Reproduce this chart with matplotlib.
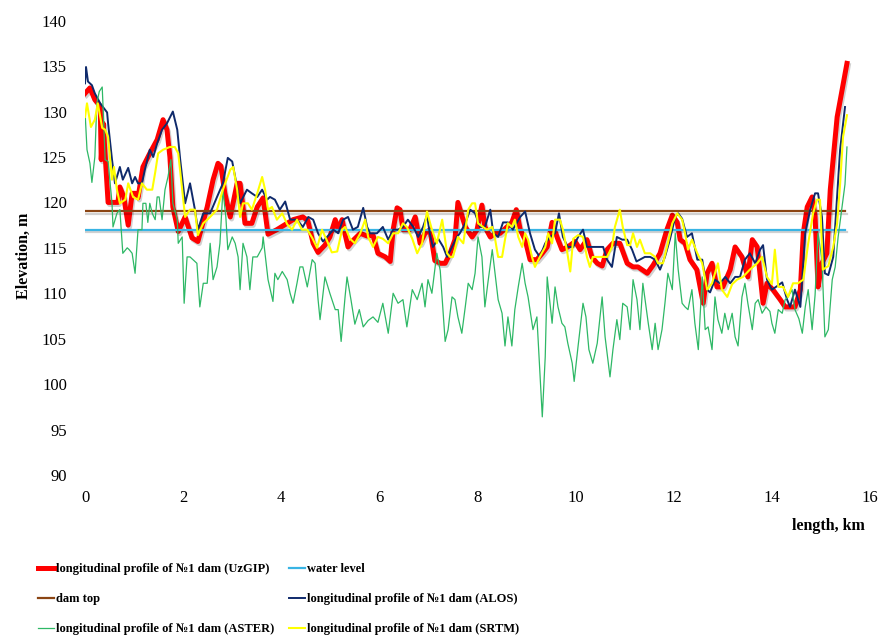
import matplotlib
matplotlib.use("Agg")
import matplotlib.pyplot as plt
import matplotlib.patheffects as pe

plt.rcParams['font.family'] = ['Liberation Serif', 'DejaVu Serif']

# UzGIP survey profile
uz_x = [0.00, 0.10, 0.20, 0.31, 0.33, 0.37, 0.47, 0.67, 0.71, 0.79, 0.88, 0.96, 1.04, 1.08,
        1.18, 1.32, 1.47, 1.59, 1.67, 1.73, 1.79, 1.90, 2.04, 2.18, 2.30, 2.49, 2.61, 2.71,
        2.77, 2.85, 2.96, 3.10, 3.16, 3.26, 3.40, 3.51, 3.63, 3.73, 3.91, 4.24, 4.44, 4.54,
        4.65, 4.75, 4.89, 4.99, 5.10, 5.16, 5.24, 5.30, 5.36, 5.46, 5.61, 5.75, 5.87, 5.97,
        6.12, 6.22, 6.28, 6.36, 6.42, 6.48, 6.62, 6.73, 6.83, 6.93, 7.03, 7.13, 7.24, 7.34,
        7.44, 7.54, 7.60, 7.75, 7.89, 7.99, 8.09, 8.15, 8.26, 8.36, 8.46, 8.60, 8.70, 8.79,
        8.87, 8.97, 9.07, 9.21, 9.32, 9.42, 9.52, 9.62, 9.72, 9.84, 9.99, 10.09, 10.23, 10.33,
        10.44, 10.54, 10.64, 10.76, 10.90, 11.05, 11.17, 11.27, 11.46, 11.58, 11.72, 11.86,
        11.97, 12.07, 12.13, 12.23, 12.33, 12.47, 12.60, 12.68, 12.78, 12.88, 13.00, 13.15,
        13.25, 13.39, 13.51, 13.60, 13.70, 13.82, 13.90, 14.02, 14.17, 14.27, 14.47, 14.58,
        14.64, 14.72, 14.82, 14.88, 14.94, 15.02, 15.12, 15.19, 15.33, 15.53]
uz_y = [132.0, 132.6, 131.3, 130.6, 124.7, 128.7, 120.0, 120.0, 121.7, 120.6, 117.5, 121.0, 121.0, 120.5,
        123.9, 125.4, 126.9, 129.1, 128.0, 125.0, 119.5, 116.8, 118.4, 116.1, 115.7, 119.5, 122.5, 124.3,
        124.0, 121.0, 118.4, 122.1, 122.1, 117.7, 117.7, 119.5, 120.5, 116.5, 117.0, 118.1, 118.4, 118.0,
        115.5, 114.5, 115.3, 116.2, 118.1, 117.0, 118.1, 116.5, 115.1, 115.8, 116.6, 116.3, 116.4, 114.4,
        114.0, 113.5, 117.0, 119.4, 119.2, 117.0, 117.0, 118.4, 115.5, 116.6, 117.0, 113.6, 113.3, 113.3,
        114.4, 115.9, 120.0, 117.3, 116.2, 117.0, 119.7, 117.3, 116.2, 116.6, 116.6, 117.3, 117.8, 119.2,
        117.0, 115.9, 113.7, 113.7, 114.4, 115.1, 117.8, 116.2, 114.8, 115.1, 115.7, 114.8, 115.9, 114.0,
        113.3, 113.0, 114.8, 115.5, 115.5, 113.3, 112.9, 112.9, 112.2, 113.1, 114.4, 117.0,
        118.6, 117.8, 115.9, 115.5, 113.7, 112.6, 108.9, 112.2, 113.3, 110.7, 110.7, 112.6,
        115.1, 114.0, 111.8, 115.9, 115.1, 108.9, 111.1, 110.4, 109.3, 108.5, 108.5, 110.4,
        116.6, 119.5, 120.6, 118.5, 110.7, 113.3, 114.4, 121.4, 129.4, 135.3]

# ALOS DEM profile
alos_x = [0.00, 0.02, 0.06, 0.14, 0.20, 0.31, 0.45, 0.47, 0.55, 0.61, 0.71, 0.77, 0.88, 0.96,
          1.02, 1.08, 1.16, 1.22, 1.32, 1.39, 1.47, 1.57, 1.67, 1.79, 1.88, 1.94, 2.04, 2.14,
          2.24, 2.30, 2.41, 2.55, 2.69, 2.81, 2.91, 3.00, 3.06, 3.16, 3.30, 3.40, 3.51, 3.61,
          3.71, 3.77, 3.87, 3.97, 4.08, 4.18, 4.32, 4.44, 4.55, 4.65, 4.75, 4.85, 4.95, 5.06,
          5.16, 5.26, 5.36, 5.46, 5.56, 5.67, 5.75, 5.81, 5.95, 6.07, 6.18, 6.28, 6.38, 6.48,
          6.58, 6.69, 6.79, 6.89, 6.97, 7.03, 7.09, 7.20, 7.30, 7.38, 7.48, 7.58, 7.64, 7.75,
          7.85, 7.95, 8.05, 8.15, 8.26, 8.32, 8.42, 8.52, 8.62, 8.72, 8.87, 8.97, 9.07, 9.17,
          9.27, 9.38, 9.48, 9.58, 9.66, 9.74, 9.84, 9.95, 10.05, 10.15, 10.23, 10.35, 10.56,
          10.64, 10.74, 10.84, 10.95, 11.05, 11.15, 11.24, 11.41, 11.52, 11.62, 11.72, 11.82,
          11.92, 12.03, 12.09, 12.17, 12.27, 12.37, 12.48, 12.58, 12.68, 12.74, 12.84, 12.94,
          13.05, 13.15, 13.25, 13.35, 13.45, 13.55, 13.66, 13.76, 13.82, 13.90, 14.00, 14.11,
          14.21, 14.31, 14.37, 14.47, 14.58, 14.68, 14.78, 14.88, 14.94, 15.02, 15.08, 15.15,
          15.25, 15.39, 15.49]
alos_y = [133.1, 134.9, 133.3, 132.9, 132.0, 130.9, 129.9, 128.7, 124.7, 122.1, 123.9, 122.5, 123.8, 122.1,
          122.8, 122.1, 122.1, 123.6, 125.8, 125.0, 126.5, 128.0, 128.7, 130.0, 128.0, 124.7, 119.9, 122.1,
          119.2, 117.0, 118.8, 118.8, 120.6, 122.1, 124.9, 124.5, 122.8, 119.9, 121.4, 121.0, 120.6, 121.4,
          120.3, 120.6, 120.3, 119.2, 120.1, 118.1, 118.1, 117.3, 118.4, 118.1, 116.6, 115.7, 116.3, 117.0,
          116.6, 118.1, 118.4, 117.0, 117.3, 119.4, 117.3, 116.6, 116.6, 117.3, 115.9, 117.0, 117.0, 117.3,
          118.1, 117.3, 116.2, 117.3, 118.6, 116.5, 115.1, 116.0, 115.1, 114.0, 115.1, 116.2, 116.6, 117.7,
          119.2, 118.8, 117.3, 117.3, 119.2, 116.6, 116.2, 117.8, 117.8, 117.0, 118.4, 119.0, 116.6, 114.8,
          114.0, 115.5, 116.2, 116.6, 118.8, 116.2, 115.1, 115.1, 116.2, 117.0, 115.1, 115.1, 115.1,
          113.7, 112.9, 116.2, 115.9, 115.9, 114.8, 113.5, 114.0, 114.0, 113.7, 112.6, 114.0,
          115.9, 118.4, 118.8, 118.2, 116.2, 116.6, 113.7, 113.7, 110.4, 110.1, 111.5, 111.1,
          111.8, 111.1, 111.8, 111.8, 113.7, 114.4, 113.3, 114.8, 115.3, 111.5, 110.4, 110.8,
          111.2, 109.3, 108.5, 110.4, 108.5, 116.6, 119.2, 121.0, 121.0, 118.4, 112.2, 112.0,
          114.0, 125.8, 130.5]

# ASTER DEM profile
aster_x = [0.00, 0.04, 0.10, 0.14, 0.20, 0.24, 0.29, 0.35, 0.37, 0.41, 0.47, 0.55, 0.57, 0.65,
           0.71, 0.77, 0.86, 0.90, 0.96, 1.02, 1.08, 1.16, 1.18, 1.24, 1.28, 1.32, 1.37, 1.43,
           1.47, 1.51, 1.57, 1.63, 1.69, 1.75, 1.79, 1.88, 1.90, 1.98, 2.02, 2.08, 2.14, 2.20,
           2.28, 2.34, 2.41, 2.49, 2.55, 2.61, 2.69, 2.75, 2.81, 2.87, 2.91, 3.00, 3.06, 3.12,
           3.16, 3.22, 3.30, 3.36, 3.42, 3.51, 3.61, 3.63, 3.73, 3.83, 3.87, 3.93, 4.02, 4.12,
           4.18, 4.24, 4.32, 4.38, 4.44, 4.53, 4.63, 4.69, 4.75, 4.79, 4.89, 4.99, 5.10, 5.16,
           5.22, 5.30, 5.34, 5.42, 5.50, 5.59, 5.67, 5.77, 5.87, 5.97, 6.07, 6.18, 6.28, 6.38,
           6.48, 6.56, 6.67, 6.77, 6.87, 6.93, 6.99, 7.07, 7.17, 7.24, 7.34, 7.40, 7.48, 7.54,
           7.60, 7.68, 7.75, 7.81, 7.89, 7.95, 8.01, 8.09, 8.15, 8.21, 8.30, 8.36, 8.42, 8.50,
           8.56, 8.62, 8.70, 8.76, 8.83, 8.91, 8.97, 9.03, 9.13, 9.21, 9.32, 9.38, 9.42, 9.52,
           9.58, 9.64, 9.72, 9.78, 9.84, 9.93, 9.97, 10.05, 10.15, 10.21, 10.27, 10.35, 10.44,
           10.54, 10.60, 10.70, 10.76, 10.84, 10.90, 10.96, 11.05, 11.11, 11.17, 11.25, 11.31,
           11.37, 11.48, 11.56, 11.62, 11.68, 11.76, 11.82, 11.88, 11.97, 12.03, 12.09, 12.17,
           12.23, 12.29, 12.37, 12.43, 12.50, 12.58, 12.64, 12.70, 12.78, 12.84, 12.90, 12.98,
           13.04, 13.11, 13.19, 13.25, 13.31, 13.39, 13.45, 13.51, 13.60, 13.66, 13.72, 13.80,
           13.88, 13.96, 14.00, 14.06, 14.13, 14.21, 14.27, 14.33, 14.41, 14.47, 14.55, 14.62,
           14.68, 14.74, 14.82, 14.88, 14.94, 15.02, 15.08, 15.15, 15.23, 15.29, 15.35, 15.43,
           15.49, 15.53]
aster_y = [130.0, 125.8, 124.3, 122.2, 125.0, 130.9, 132.2, 132.7, 130.2, 124.7, 124.5, 119.9, 117.3, 118.8,
           119.2, 114.4, 115.0, 114.8, 114.4, 112.2, 117.0, 117.0, 119.9, 119.9, 117.8, 119.9, 118.8, 118.1,
           120.6, 120.6, 118.1, 121.4, 122.8, 124.7, 119.9, 118.1, 115.5, 116.2, 108.9, 114.0, 114.0, 113.7,
           113.3, 108.5, 111.1, 111.1, 115.5, 111.5, 112.9, 115.5, 121.4, 118.4, 114.8, 116.2, 115.5, 114.0,
           110.4, 115.5, 114.0, 110.4, 114.0, 114.0, 115.0, 116.2, 111.5, 109.1, 112.2, 111.5, 112.4, 111.5,
           110.0, 108.9, 111.1, 112.9, 112.9, 110.7, 113.7, 113.3, 109.3, 107.1, 111.8, 110.0, 108.2, 108.2,
           104.7, 109.6, 111.8, 109.3, 106.6, 108.2, 106.3, 107.0, 107.4, 106.8, 108.9, 105.6, 110.0, 108.9,
           109.3, 106.3, 110.4, 109.3, 111.1, 108.5, 111.5, 110.0, 114.4, 112.5, 104.7, 106.0, 109.6, 109.3,
           107.4, 105.6, 108.5, 111.1, 110.4, 112.2, 116.2, 114.0, 108.5, 111.1, 114.8, 112.0, 109.3, 107.8,
           104.2, 107.4, 104.2, 108.2, 110.7, 113.3, 111.1, 109.6, 106.0, 107.4, 96.4, 103.0, 111.8, 106.7,
           110.7, 108.5, 106.7, 106.3, 104.5, 102.3, 100.3, 104.2, 108.9, 107.4, 103.8, 102.3, 104.5,
           109.6, 105.2, 100.8, 103.8, 107.1, 104.9, 108.9, 108.5, 106.0, 111.5, 109.3, 106.0,
           111.1, 106.7, 103.8, 106.7, 103.8, 106.0, 108.9, 112.2, 110.4, 116.6, 112.6, 108.9,
           108.5, 108.2, 110.4, 106.7, 103.8, 111.8, 106.0, 106.3, 103.8, 109.6, 107.1, 105.6,
           107.8, 106.0, 107.8, 105.2, 104.2, 109.6, 111.1, 108.9, 106.0, 108.9, 109.3, 107.8,
           108.5, 108.0, 106.7, 105.6, 108.2, 107.8, 109.3, 109.6, 110.4, 108.2, 107.2, 105.6,
           108.5, 110.4, 106.0, 109.8, 116.6, 113.7, 105.2, 106.0, 111.5, 112.9, 116.2, 119.5,
           122.0, 126.1]

# SRTM DEM profile
srtm_x = [0.00, 0.04, 0.12, 0.20, 0.26, 0.35, 0.41, 0.47, 0.55, 0.59, 0.65, 0.71, 0.82, 0.88,
          0.98, 1.08, 1.16, 1.26, 1.37, 1.43, 1.49, 1.59, 1.73, 1.83, 1.90, 1.98, 2.04, 2.14,
          2.24, 2.30, 2.41, 2.55, 2.69, 2.81, 2.96, 3.02, 3.10, 3.16, 3.22, 3.32, 3.40, 3.51,
          3.61, 3.67, 3.73, 3.81, 3.91, 4.02, 4.12, 4.22, 4.32, 4.42, 4.53, 4.63, 4.73, 4.83,
          4.93, 5.03, 5.14, 5.24, 5.30, 5.40, 5.50, 5.61, 5.71, 5.77, 5.87, 5.97, 6.07, 6.18,
          6.28, 6.38, 6.48, 6.56, 6.67, 6.77, 6.87, 6.97, 7.07, 7.17, 7.28, 7.38, 7.44, 7.50,
          7.60, 7.71, 7.81, 7.89, 7.95, 8.01, 8.11, 8.19, 8.30, 8.36, 8.42, 8.50, 8.56, 8.62,
          8.70, 8.76, 8.83, 8.91, 8.97, 9.03, 9.11, 9.17, 9.27, 9.38, 9.44, 9.52, 9.58, 9.68,
          9.74, 9.82, 9.89, 9.95, 10.05, 10.15, 10.23, 10.29, 10.35, 10.50, 10.64, 10.74, 10.80,
          10.90, 10.96, 11.05, 11.11, 11.17, 11.25, 11.31, 11.41, 11.52, 11.62, 11.68, 11.78,
          11.88, 11.97, 12.07, 12.17, 12.23, 12.29, 12.37, 12.48, 12.58, 12.68, 12.78, 12.90,
          12.98, 13.09, 13.19, 13.29, 13.41, 13.55, 13.70, 13.80, 13.90, 14.00, 14.06, 14.13,
          14.23, 14.33, 14.43, 14.53, 14.64, 14.74, 14.84, 14.92, 14.98, 15.04, 15.15, 15.25,
          15.33, 15.39, 15.45, 15.53]
srtm_y = [129.4, 130.9, 128.3, 129.1, 130.9, 128.2, 128.0, 127.2, 122.5, 123.9, 121.4, 119.9, 120.3, 122.1,
          120.6, 120.3, 122.1, 121.4, 121.4, 123.3, 125.4, 125.8, 126.1, 126.1, 125.4, 121.4, 118.4, 119.2,
          119.2, 116.4, 117.7, 118.4, 119.2, 121.4, 123.6, 123.9, 121.4, 118.4, 119.9, 119.9, 119.2, 121.0,
          122.8, 121.4, 119.2, 119.5, 118.1, 118.8, 117.6, 117.0, 118.1, 117.0, 117.0, 116.1, 115.0, 117.0,
          115.8, 114.5, 114.6, 117.0, 117.3, 116.0, 115.5, 116.6, 118.1, 116.2, 115.1, 116.2, 116.0, 115.5,
          116.6, 116.6, 117.7, 117.3, 116.0, 114.4, 115.5, 119.0, 117.0, 115.5, 118.1, 114.4, 114.0, 114.0,
          116.2, 115.5, 119.2, 119.9, 119.9, 117.7, 117.3, 117.0, 117.3, 115.9, 114.0, 114.0, 115.9, 117.7,
          117.3, 118.1, 116.2, 115.1, 116.6, 115.9, 114.0, 112.9, 114.0, 115.1, 116.6, 115.5, 118.1, 118.1,
          117.0, 114.8, 112.4, 116.0, 116.4, 116.2, 114.0, 112.9, 114.0, 114.0, 114.0, 115.1, 117.3,
          119.2, 117.3, 115.3, 115.3, 116.6, 115.1, 115.9, 114.4, 114.4, 114.0, 113.3, 113.3,
          115.5, 117.7, 118.8, 118.1, 116.6, 114.8, 115.9, 114.4, 113.3, 110.4, 111.1, 113.3,
          110.4, 109.6, 111.0, 111.5, 111.8, 112.6, 113.3, 114.0, 111.8, 111.0, 114.8, 110.7,
          110.7, 109.6, 111.1, 111.1, 111.5, 115.5, 118.8, 120.3, 120.3, 112.6, 113.0, 115.1,
          117.7, 122.0, 127.2, 129.6]

# design levels along the dam
level_x = [0.0, 15.5]
water_level = [117.0, 117.0]
dam_top = [119.0, 119.0]

fig = plt.figure(figsize=(8.83, 6.4), dpi=100)
ax = fig.add_axes([0.0963, 0.2578, 0.8890, 0.7099])

shadow = [pe.SimpleLineShadow(offset=(1, -1.5), alpha=0.18), pe.Normal()]

l_uz, = ax.plot(uz_x, uz_y, color='#FF0000', lw=3.6, solid_joinstyle='round',
                path_effects=shadow, label='longitudinal profile of №1 dam (UzGIP)')
l_wl, = ax.plot(level_x, water_level, color='#38B4E4', lw=1.6,
                path_effects=shadow, label='water level')
l_dt, = ax.plot(level_x, dam_top, color='#8B4513', lw=1.6,
                path_effects=shadow, label='dam top')
l_al, = ax.plot(alos_x, alos_y, color='#0F2A6B', lw=1.4,
                label='longitudinal profile of №1 dam (ALOS)')
l_as, = ax.plot(aster_x, aster_y, color='#2EB866', lw=0.9,
                label='longitudinal profile of №1 dam (ASTER)')
l_sr, = ax.plot(srtm_x, srtm_y, color='#FFFF00', lw=1.5,
                label='longitudinal profile of №1 dam (SRTM)')

ax.set_xlim(0, 16)
ax.set_ylim(90, 140)
ax.set_xticks(range(0, 17, 2))
ax.set_yticks(range(90, 141, 5))
for s in ax.spines.values():
    s.set_visible(False)
ax.tick_params(axis='both', length=0, labelsize=12)
ax.tick_params(axis='x', pad=11)
ax.tick_params(axis='y', pad=13)

fig.text(0.027, 0.60, 'Elevation, m', rotation=90, ha='center', va='center',
         fontsize=11.5, fontweight='bold')
fig.text(0.980, 0.178, 'length, km', ha='right', va='center',
         fontsize=11.5, fontweight='bold')

handles = [l_uz, l_dt, l_as, l_wl, l_al, l_sr]
leg = fig.legend(handles=handles, labels=[h.get_label() for h in handles],
                 ncol=2, loc='upper left', bbox_to_anchor=(0.03, 0.138),
                 frameon=False, handlelength=1.3, handletextpad=0.15,
                 columnspacing=1.2, labelspacing=1.45,
                 prop={'weight': 'bold', 'size': 9})
for h in leg.legend_handles:
    h.set_path_effects([])

fig.savefig('out.png', dpi=100)
